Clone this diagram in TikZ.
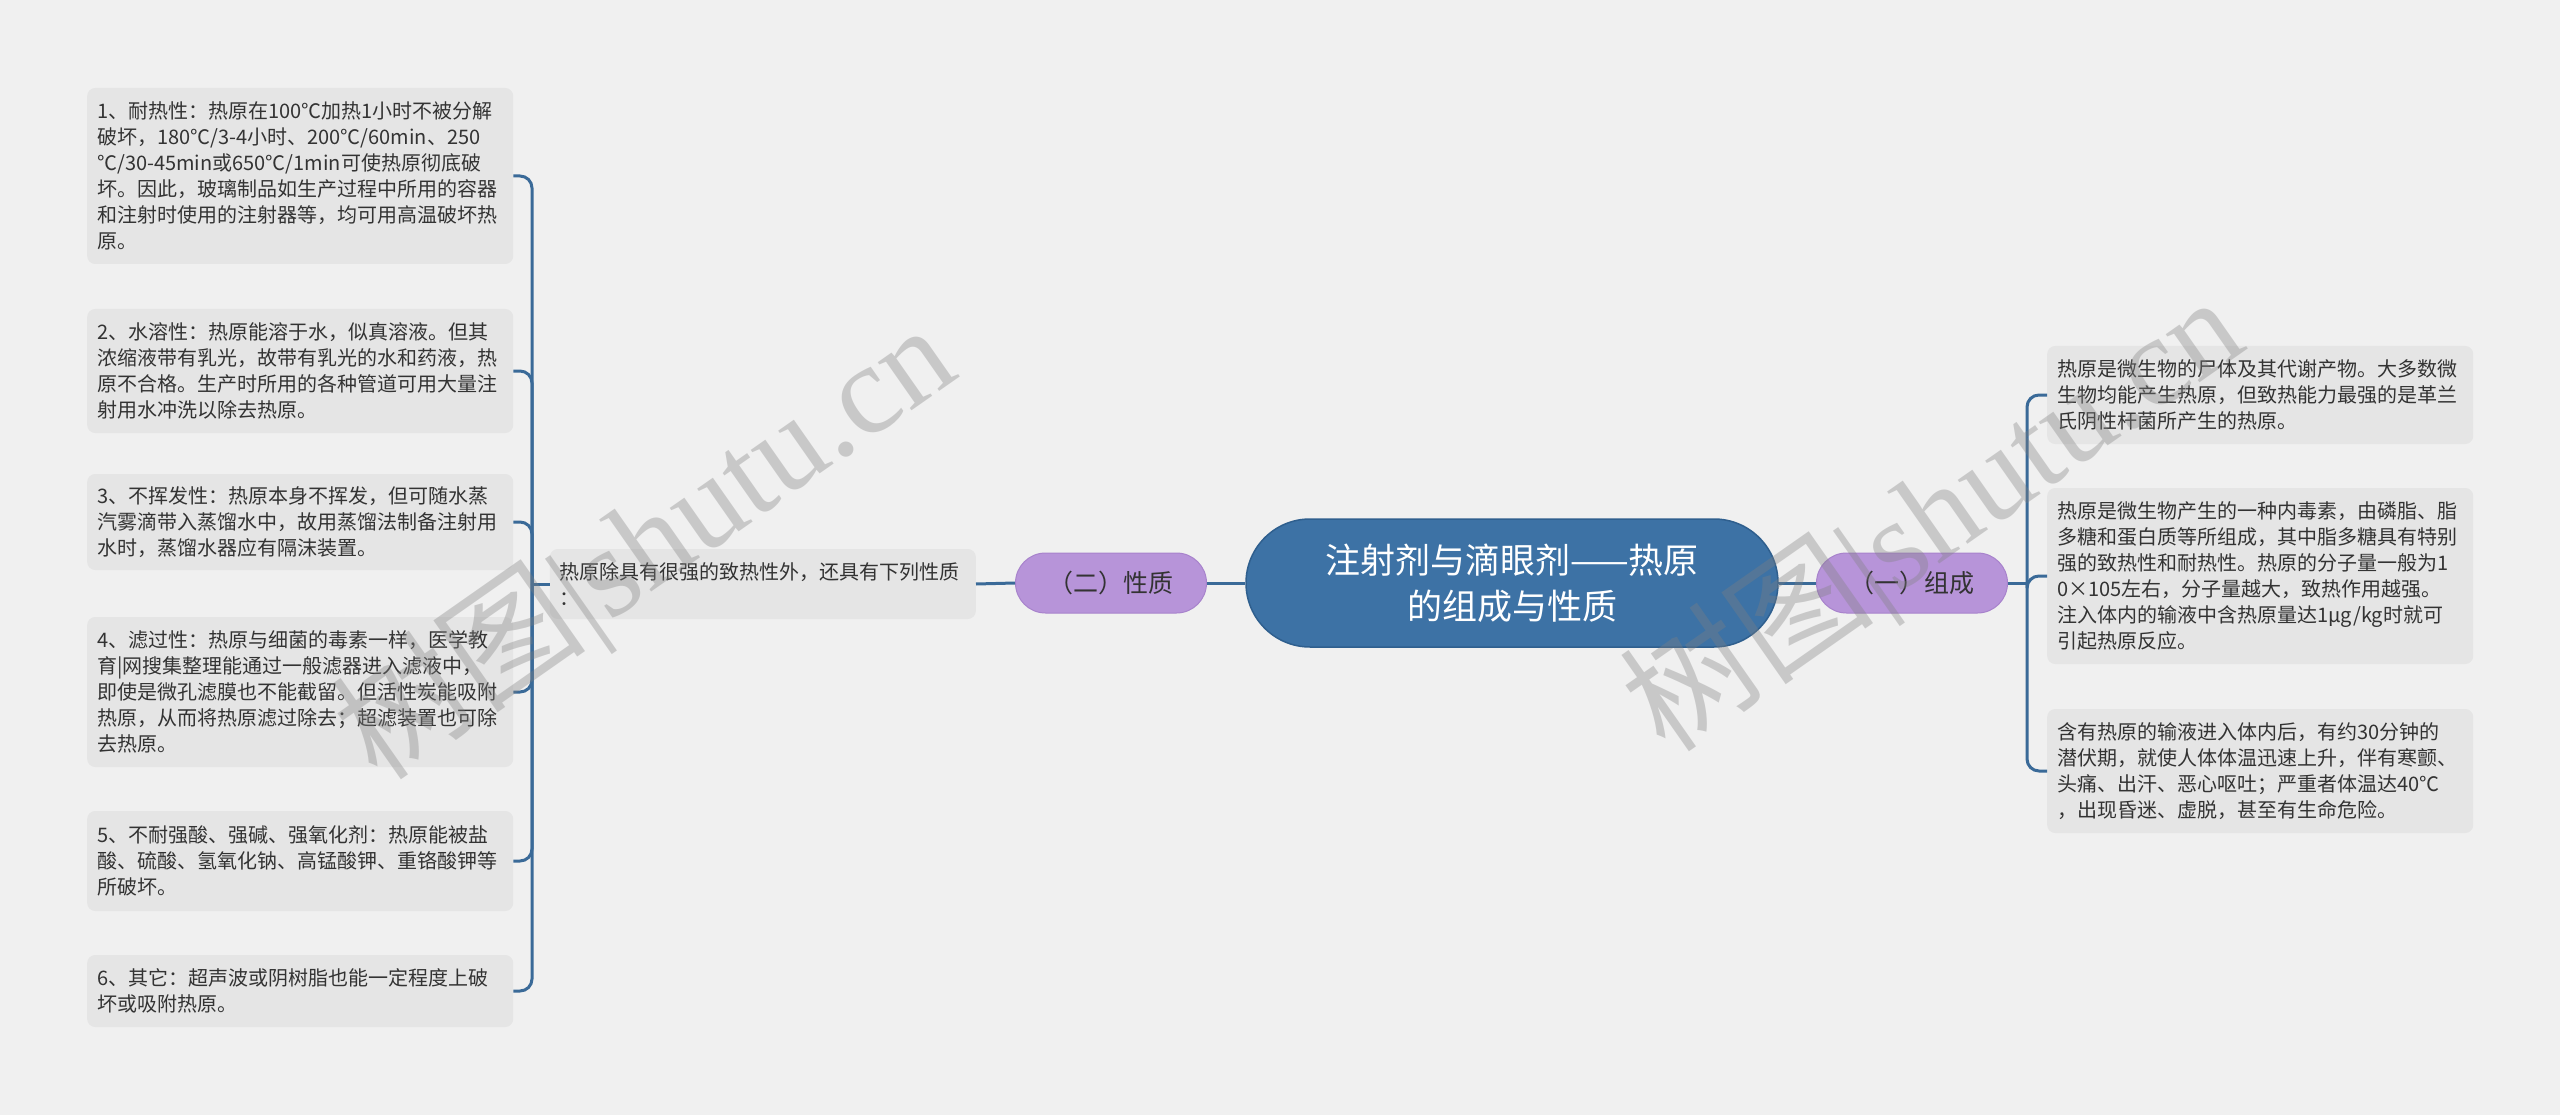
\documentclass[tikz,border=0pt]{standalone}
\usepackage{fontspec}
\setmainfont{Noto Sans CJK SC}
\newfontfamily\wmfont{Liberation Serif}
\newfontfamily\wmcjk{Noto Sans CJK SC}
\definecolor{bgc}{HTML}{F0F0F0}
\definecolor{leafc}{HTML}{E5E5E5}
\definecolor{txt}{HTML}{333333}
\definecolor{mainc}{HTML}{3D72A5}
\definecolor{mainb}{HTML}{2F5F8E}
\definecolor{pillc}{HTML}{B794D9}
\definecolor{pillb}{HTML}{A883CC}
\definecolor{linec}{HTML}{3A6A98}
\begin{document}
\begin{tikzpicture}[x=1pt,y=-1pt,
  leaf/.style={fill=leafc, rounded corners=8pt, text width=406pt, align=left,
    inner xsep=10pt, inner ysep=0pt, text=txt, font=\fontsize{20}{26}\selectfont},
  pill/.style={fill=pillc, draw=pillb, line width=1pt, rounded corners=30pt,
    minimum width=191pt, minimum height=60pt, text=txt, font=\fontsize{25}{30}\selectfont},
  mainnode/.style={fill=mainc, draw=mainb, line width=1.5pt, rounded corners=64pt,
    minimum width=532pt, minimum height=128pt, text=white, align=center,
    font=\fontsize{35}{46}\selectfont},
  conn/.style={draw=linec, line width=3pt, rounded corners=12pt},
  wm/.style={rotate=35, text=gray, opacity=0.35, font=\wmfont\fontsize{128}{128}\selectfont}
]
\useasboundingbox (0,0) rectangle (2560,1115);
\fill[bgc] (0,0) rectangle (2560,1115);

% central
\node[mainnode] (main) at (1512,583) {注射剂与滴眼剂——热原\\的组成与性质};

% branches
\node[pill] (lp) at (1111,583) {（二）性质};
\node[pill] (rp) at (1912,583) {（一）组成};

\node[leaf, anchor=east, minimum height=70pt] (mid) at (976,584)
  {热原除具有很强的致热性外，还具有下列性质\\：};

% left leaves
\node[leaf, anchor=west, minimum height=176pt] (l1) at (87,176)
  {1、耐热性：热原在100℃加热1小时不被分解\\破坏，180℃/3-4小时、200℃/60min、250\\℃/30-45min或650℃/1min可使热原彻底破\\坏。因此，玻璃制品如生产过程中所用的容器\\和注射时使用的注射器等，均可用高温破坏热\\原。};
\node[leaf, anchor=west, minimum height=124pt] (l2) at (87,371)
  {2、水溶性：热原能溶于水，似真溶液。但其\\浓缩液带有乳光，故带有乳光的水和药液，热\\原不合格。生产时所用的各种管道可用大量注\\射用水冲洗以除去热原。};
\node[leaf, anchor=west, minimum height=96pt] (l3) at (87,522)
  {3、不挥发性：热原本身不挥发，但可随水蒸\\汽雾滴带入蒸馏水中，故用蒸馏法制备注射用\\水时，蒸馏水器应有隔沫装置。};
\node[leaf, anchor=west, minimum height=150pt] (l4) at (87,692)
  {4、滤过性：热原与细菌的毒素一样，医学教\\育|网搜集整理能通过一般滤器进入滤液中，\\即使是微孔滤膜也不能截留。但活性炭能吸附\\热原，从而将热原滤过除去；超滤装置也可除\\去热原。};
\node[leaf, anchor=west, minimum height=100pt] (l5) at (87,861)
  {5、不耐强酸、强碱、强氧化剂：热原能被盐\\酸、硫酸、氢氧化钠、高锰酸钾、重铬酸钾等\\所破坏。};
\node[leaf, anchor=west, minimum height=72pt] (l6) at (87,991)
  {6、其它：超声波或阴树脂也能一定程度上破\\坏或吸附热原。};

% right leaves
\node[leaf, anchor=west, minimum height=98pt] (r1) at (2047,395)
  {热原是微生物的尸体及其代谢产物。大多数微\\生物均能产生热原，但致热能力最强的是革兰\\氏阴性杆菌所产生的热原。};
\node[leaf, anchor=west, minimum height=176pt] (r2) at (2047,576)
  {热原是微生物产生的一种内毒素，由磷脂、脂\\多糖和蛋白质等所组成，其中脂多糖具有特别\\强的致热性和耐热性。热原的分子量一般为1\\0×105左右，分子量越大，致热作用越强。\\注入体内的输液中含热原量达1μg/kg时就可\\引起热原反应。};
\node[leaf, anchor=west, minimum height=124pt] (r3) at (2047,771)
  {含有热原的输液进入体内后，有约30分钟的\\潜伏期，就使人体体温迅速上升，伴有寒颤、\\头痛、出汗、恶心呕吐；严重者体温达40℃\\，出现昏迷、虚脱，甚至有生命危险。};

% connectors
\draw[conn] (main.west) -- (lp.east);
\draw[conn] (main.east) -- (rp.west);
\draw[conn] (lp.west) -- (mid.east);
\coordinate (lt) at (532,584);
\draw[conn] (mid.west) -- (lt);
\foreach \n in {l1,l2,l3,l4,l5,l6} \draw[conn] (lt) |- (\n.east);
\coordinate (rt) at (2027,583);
\draw[conn] (rp.east) -- (rt);
\foreach \n in {r1,r2,r3} \draw[conn] (rt) |- (\n.west);

% watermarks
\node[wm] (wm1) at (647,547) {{\wmcjk 树图}|shutu.cn};
\node[wm] (wm2) at (1935,519) {{\wmcjk 树图}|shutu.cn};
\end{tikzpicture}
\end{document}
